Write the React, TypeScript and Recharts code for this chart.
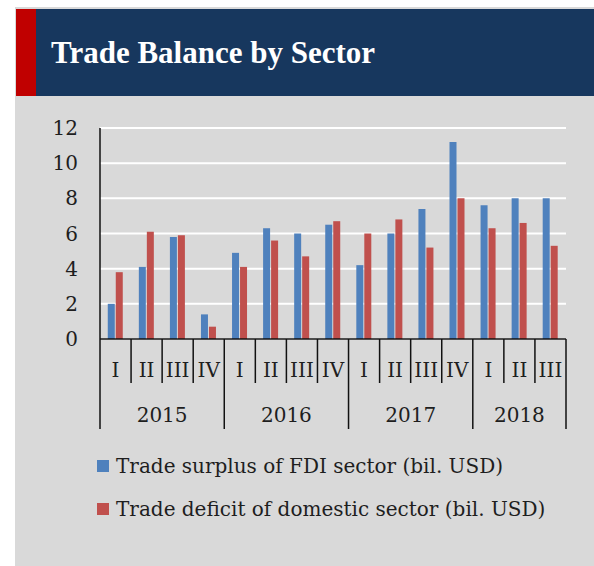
import React from 'react';
import { BarChart, Bar, XAxis, YAxis, CartesianGrid } from 'recharts';

const quarters = ['I', 'II', 'III', 'IV', 'I', 'II', 'III', 'IV', 'I', 'II', 'III', 'IV', 'I', 'II', 'III'];
const years = ['2015', '2015', '2015', '2015', '2016', '2016', '2016', '2016', '2017', '2017', '2017', '2017', '2018', '2018', '2018'];
const fdiSurplus = [2.0, 4.1, 5.8, 1.4, 4.9, 6.3, 6.0, 6.5, 4.2, 6.0, 7.4, 11.2, 7.6, 8.0, 8.0];
const domesticDeficit = [3.8, 6.1, 5.9, 0.7, 4.1, 5.6, 4.7, 6.7, 6.0, 6.8, 5.2, 8.0, 6.3, 6.6, 5.3];
const yTicks = [0, 2, 4, 6, 8, 10, 12];
const seriesNames = ['Trade surplus of FDI sector (bil. USD)', 'Trade deficit of domestic sector (bil. USD)'];
const seriesColors = ['#4F81BD', '#C0504D'];
const title = 'Trade Balance by Sector';

const data = quarters.map((q, i) => ({
  key: `${years[i]}-${q}`,
  q,
  year: years[i],
  fdi: fdiSurplus[i],
  dom: domesticDeficit[i],
}));

const FONT = '"DejaVu Serif", serif';
const FS = 20;
const TEXT = '#1e1e1e';
const W = 594;
const H = 566;
const PLOT_LEFT = 100;
const PLOT_RIGHT = 566;
const BAND_FALLBACK = (PLOT_RIGHT - PLOT_LEFT) / quarters.length;

const QuarterTick = (props: any) => {
  const { x, y, payload } = props;
  const i: number = payload.index;
  const band = payload.offset ? payload.offset * 2 : BAND_FALLBACK;
  const left = x - band / 2;
  const right = x + band / 2;
  const yearStart = i === 0 || years[i] !== years[i - 1];
  const isLast = i === quarters.length - 1;
  const isYearEnd = isLast || years[i + 1] !== years[i];
  let yearLabel: React.ReactNode = null;
  if (yearStart) {
    let n = 0;
    while (i + n < years.length && years[i + n] === years[i]) n++;
    const cx = left + (n * band) / 2;
    yearLabel = (
      <text x={cx} y={y + 83} textAnchor="middle" fontSize={FS} fontFamily={FONT} fill={TEXT}>
        {years[i]}
      </text>
    );
  }
  return (
    <g>
      <line x1={left} x2={left} y1={y} y2={y + (yearStart ? 90 : 44)} stroke="#111" strokeWidth={1.5} />
      {isLast && <line x1={right} x2={right} y1={y} y2={y + (isYearEnd ? 90 : 44)} stroke="#111" strokeWidth={1.5} />}
      <text x={x} y={y + 38} textAnchor="middle" fontSize={FS} fontFamily={FONT} fill={TEXT}>
        {payload.value}
      </text>
      {yearLabel}
    </g>
  );
};

export default function App() {
  return (
    <div style={{ position: 'absolute', left: 0, top: 0, width: W, height: H, background: '#fff', overflow: 'hidden' }}>
      <div style={{ position: 'absolute', left: 15, top: 7, width: W - 15, height: H - 7, background: '#D9D9D9' }} />
      <div style={{ position: 'absolute', left: 16, top: 9, width: 20, height: 87, background: '#C00000' }} />
      <div style={{ position: 'absolute', left: 36, top: 9, width: W - 36, height: 87, background: '#17375E' }} />
      <div
        style={{
          position: 'absolute',
          left: 51,
          top: 33,
          color: '#fff',
          fontFamily: '"Liberation Serif", serif',
          fontWeight: 'bold',
          fontSize: 31,
          lineHeight: '40px',
          whiteSpace: 'nowrap',
        }}
      >
        {title}
      </div>
      <div style={{ position: 'absolute', left: 0, top: 0 }}>
        <BarChart
          width={W}
          height={H}
          data={data}
          margin={{ top: 128, right: W - PLOT_RIGHT, bottom: 137, left: 0 }}
          barCategoryGap="25%"
          barGap={1}
        >
          <CartesianGrid vertical={false} stroke="#ffffff" strokeWidth={2} />
          <YAxis
            domain={[0, 12]}
            ticks={yTicks}
            width={PLOT_LEFT}
            tickLine={false}
            tickSize={0}
            tickMargin={22}
            axisLine={{ stroke: '#111', strokeWidth: 1.5 }}
            tick={{ fontSize: FS, fontFamily: FONT, fill: TEXT }}
            interval={0}
          />
          <XAxis
            dataKey="q"
            height={90}
            interval={0}
            tickLine={false}
            tickSize={0}
            tickMargin={0}
            axisLine={{ stroke: '#111', strokeWidth: 1.5 }}
            tick={<QuarterTick />}
          />
          <Bar dataKey="fdi" name={seriesNames[0]} fill={seriesColors[0]} isAnimationActive={false} />
          <Bar dataKey="dom" name={seriesNames[1]} fill={seriesColors[1]} isAnimationActive={false} />
        </BarChart>
      </div>
      {seriesNames.map((name, i) => (
        <div
          key={name}
          style={{
            position: 'absolute',
            left: 97,
            top: 453 + i * 43,
            height: 26,
            display: 'flex',
            alignItems: 'center',
            whiteSpace: 'nowrap',
            fontFamily: FONT,
            fontSize: FS,
            color: TEXT,
          }}
        >
          <span style={{ display: 'inline-block', width: 12, height: 12, background: seriesColors[i], marginRight: 7 }} />
          <span>{name}</span>
        </div>
      ))}
    </div>
  );
}
